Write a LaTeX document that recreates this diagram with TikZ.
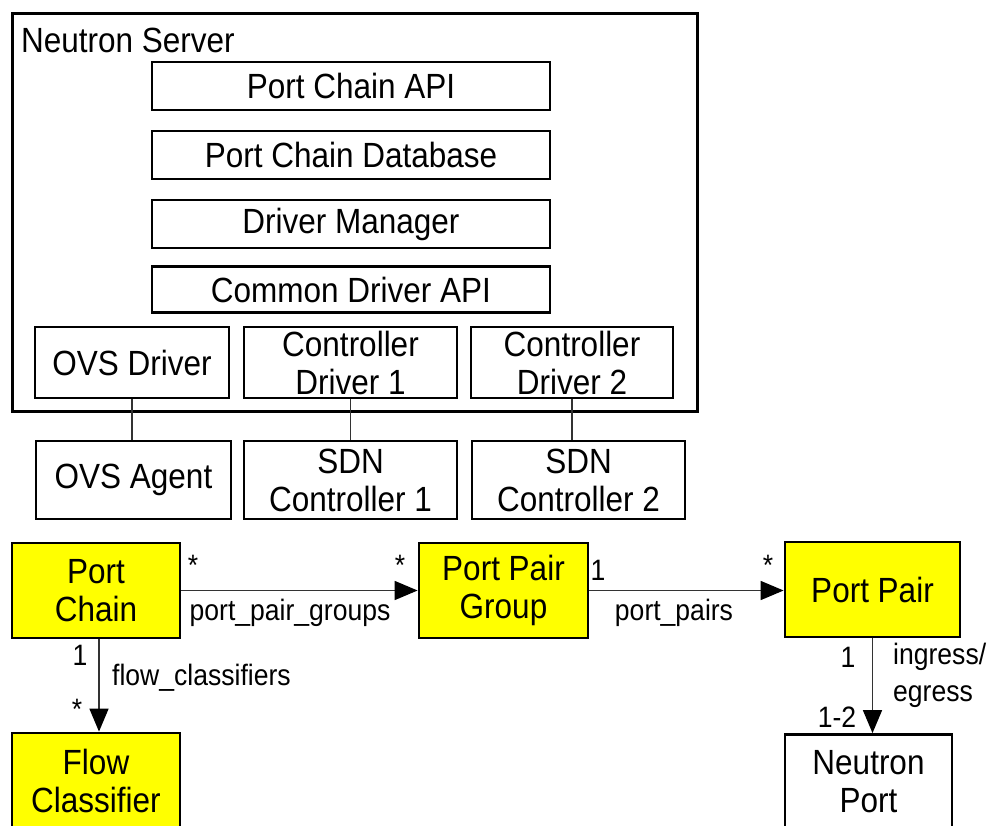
\documentclass[tikz,border=0pt]{standalone}
\usepackage{fontspec}
\setmainfont{Liberation Sans}[FakeStretch=0.9]
\usetikzlibrary{arrows.meta}
\definecolor{boxyellow}{HTML}{FFFF00}
\begin{document}
\begin{tikzpicture}[x=1pt,y=-1pt,
  box/.style={draw=black, line width=2.8pt, rectangle, inner sep=0pt, align=center,
    font=\fontsize{35}{38}\selectfont},
  ybox/.style={box, fill=boxyellow},
  conn/.style={draw=black!80, line width=1.6pt},
  arr/.style={conn, -{Triangle[length=23pt,width=19pt,color=black,fill=black]}},
  lbl/.style={inner sep=0pt, font=\fontsize{29.5}{32}\selectfont}]
\useasboundingbox (0,0) rectangle (987,826);
\clip (0,0) rectangle (987,826);
\fill[white] (0,0) rectangle (987,826);
% Neutron server
\node[box, minimum width=685pt, minimum height=397pt, line width=3pt] (srv) at (354.5,212.5) {};
\node[anchor=west, inner sep=0pt, font=\fontsize{35}{38}\selectfont] (srvt) at (21,40) {Neutron Server};
\node[box, minimum width=398pt, minimum height=48pt] (api) at (351,86) {Port Chain API};
\node[box, minimum width=398pt, minimum height=48pt] (db) at (351,155) {Port Chain Database};
\node[box, minimum width=398pt, minimum height=48pt] (dm) at (351,224) {Driver Manager};
\node[box, minimum width=398pt, minimum height=46pt] (cda) at (351,289.5) {Common Driver API};
\node[box, minimum width=194pt, minimum height=71pt] (ovsd) at (132,362.5) {OVS Driver};
\node[box, minimum width=213pt, minimum height=71pt] (cd1) at (350.5,362.5) {Controller\\Driver 1};
\node[box, minimum width=202pt, minimum height=71pt] (cd2) at (572,362.5) {Controller\\Driver 2};
% agents
\node[box, minimum width=195pt, minimum height=78pt] (ovsa) at (133.5,480) {OVS Agent};
\node[box, minimum width=213pt, minimum height=78pt] (sdn1) at (350.5,480) {SDN\\Controller 1};
\node[box, minimum width=213pt, minimum height=78pt] (sdn2) at (578.5,480) {SDN\\Controller 2};
\draw[conn] (ovsd.south) -- (ovsd.south |- ovsa.north);
\draw[conn] (cd1.south) -- (cd1.south |- sdn1.north);
\draw[conn] (cd2.south) -- (cd2.south |- sdn2.north);
% data model
\node[ybox, minimum width=168pt, minimum height=95pt] (pc) at (96,590.5) {Port\\Chain};
\node[ybox, minimum width=169pt, minimum height=95pt] (ppg) at (503.5,590.5) {Port Pair\\Group};
\node[ybox, minimum width=175pt, minimum height=95pt] (pp) at (872.5,589.5) {Port Pair};
\node[ybox, minimum width=168pt, minimum height=95pt] (fc) at (96,780.5) {Flow\\Classifier};
\node[box, minimum width=167pt, minimum height=95pt] (np) at (868.5,782) {Neutron\\Port};
\draw[arr] (pc.east) -- (ppg.west);
\draw[arr] (ppg.east) -- (ppg.east -| pp.west);
\draw[arr] ([xshift=3pt]pc.south) -- ([xshift=3pt]fc.north);
\draw[arr] (pp.south) -- (pp.south |- np.north);
% labels
\node[lbl] (s1) at (193,565) {*};
\node[lbl] (s2) at (400,565) {*};
\node[lbl] (l1) at (290,613) {port\_pair\_groups};
\node[lbl] (o1) at (598,570) {1};
\node[lbl] (s3) at (768,565) {*};
\node[lbl] (l2) at (674,613) {port\_pairs};
\node[lbl] (o2) at (80,655) {1};
\node[lbl, anchor=west] (l3) at (112,678) {flow\_classifiers};
\node[lbl] (s4) at (77,709) {*};
\node[lbl] (o3) at (848,657) {1};
\node[lbl, anchor=west] (l4) at (893,657) {ingress/};
\node[lbl, anchor=west] (l5) at (893,697) {egress};
\node[lbl] (o4) at (837,717) {1-2};
\end{tikzpicture}
\end{document}
